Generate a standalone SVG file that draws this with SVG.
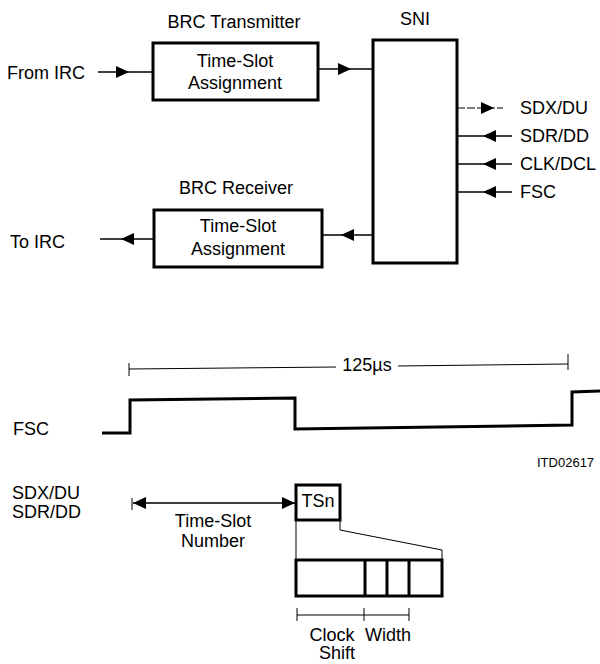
<svg xmlns="http://www.w3.org/2000/svg" width="600" height="664" viewBox="0 0 600 664">
<style>
text{font-family:"Liberation Sans",Arial,sans-serif;font-size:18px;fill:#000}
.c{text-anchor:middle}
.box{fill:none;stroke:#000;stroke-width:3}
.ln{fill:none;stroke:#000;stroke-width:1.6}
.thin{fill:none;stroke:#000;stroke-width:1}
.wave{fill:none;stroke:#000;stroke-width:3;stroke-linejoin:miter}
.small{font-size:13px}
</style>
<defs>
<marker id="ah" markerUnits="userSpaceOnUse" markerWidth="14" markerHeight="12" refX="13" refY="6" orient="auto-start-reverse">
<path d="M0,0 L13,6 L0,12 z" fill="#000"/>
</marker>
</defs>

<g id="transmitter">
<text class="c" x="234" y="28">BRC Transmitter</text>
<rect class="box" x="153" y="43" width="165" height="57"/>
<text class="c" x="235" y="67">Time-Slot</text>
<text class="c" x="235" y="89">Assignment</text>
</g>

<g id="receiver">
<text class="c" x="236" y="194">BRC Receiver</text>
<rect class="box" x="154" y="210" width="168" height="57"/>
<text class="c" x="238" y="232">Time-Slot</text>
<text class="c" x="238" y="255">Assignment</text>
</g>

<g id="sni">
<text class="c" x="415" y="25">SNI</text>
<rect class="box" x="373" y="40" width="84" height="223"/>
</g>

<g id="labels">
<text x="7" y="79">From IRC</text>
<text x="10" y="248">To IRC</text>
<text x="520" y="114">SDX/DU</text>
<text x="520" y="142">SDR/DD</text>
<text x="520" y="170">CLK/DCL</text>
<text x="520" y="198">FSC</text>
</g>

<g id="connectors">
<path class="ln" d="M98,72 H129 H153" marker-mid="url(#ah)"/>
<path class="ln" d="M318,69 H351 H373" marker-mid="url(#ah)"/>
<path class="ln" d="M373,235 H341 H322" marker-mid="url(#ah)"/>
<path class="ln" d="M154,239 H121 H100" marker-mid="url(#ah)"/>
<path class="thin" d="M457,108 H494 H503" marker-mid="url(#ah)" stroke-dasharray="8,2"/>
<path class="ln" d="M512,136 H483 H457" marker-mid="url(#ah)"/>
<path class="ln" d="M512,164 H483 H457" marker-mid="url(#ah)"/>
<path class="ln" d="M512,192 H483 H457" marker-mid="url(#ah)"/>
</g>

<g id="timing">
<path class="thin" d="M129,369 L336,367"/>
<path class="thin" d="M398,366 L568,364"/>
<path class="thin" d="M129,363 V376"/>
<path class="thin" d="M568,354 V370"/>
<text class="c" x="367" y="371">125µs</text>
<path class="wave" d="M102,433 L130,433 L130,400 L295,398 L295,429 L572,425 L572,392 L600,391"/>
<text x="13" y="435">FSC</text>
<text class="small" x="537" y="467">ITD02617</text>
</g>

<g id="slot">
<text x="12" y="499">SDX/DU</text>
<text x="12" y="518">SDR/DD</text>
<path class="thin" d="M132,498 V510"/>
<path class="ln" d="M133,503 H295" marker-start="url(#ah)" marker-end="url(#ah)"/>
<rect class="box" x="296" y="485" width="44" height="35"/>
<text class="c" x="318" y="507">TSn</text>
<text class="c" x="213" y="527">Time-Slot</text>
<text class="c" x="213" y="547">Number</text>
<path class="thin" d="M296,520 V560"/>
<path class="thin" d="M340,520 V530 L442,550 V560"/>
<rect class="box" x="296" y="560" width="146" height="36"/>
<path class="box" d="M365,560 V596 M387,560 V596 M409,560 V596"/>
<path class="thin" d="M297,615 H409 M297,608 V621 M364,608 V621 M409,608 V621"/>
<text class="c" x="332" y="641">Clock</text>
<text class="c" x="388" y="641">Width</text>
<text class="c" x="337" y="659">Shift</text>
</g>
</svg>
